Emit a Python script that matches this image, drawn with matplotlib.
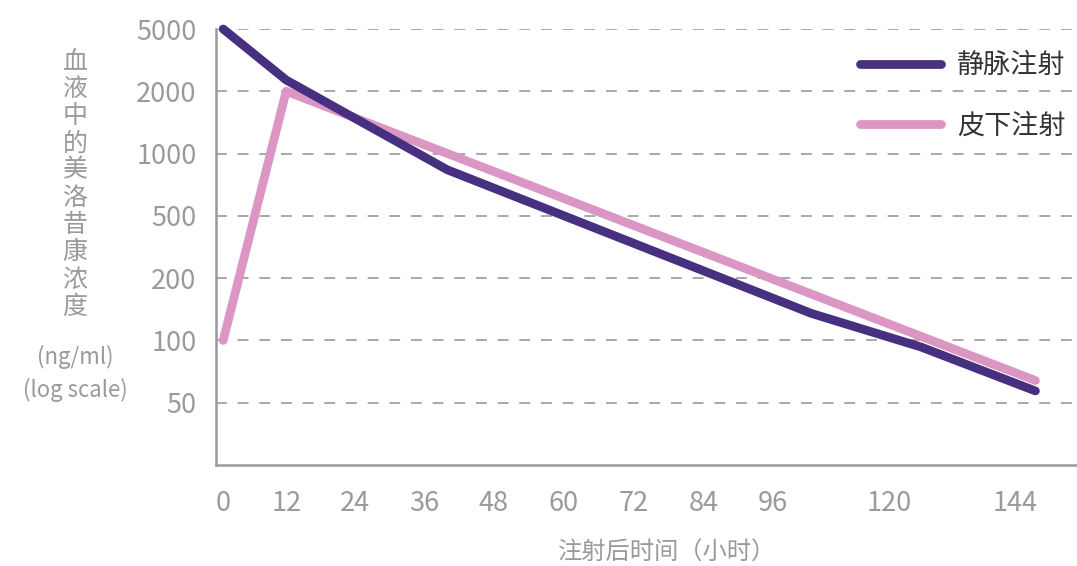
import numpy as np
import matplotlib
matplotlib.use('Agg')
import matplotlib.pyplot as plt

plt.rcParams['font.family'] = ['Noto Sans CJK SC', 'DejaVu Sans']

# data (hours, ng/ml)
iv_hours = [0, 12, 40, 104, 126, 148]
iv_conc = [5000, 2360, 835, 135, 93, 57]
sc_hours = [0, 12, 148]
sc_conc = [100, 2000, 64]

x_ticks = [0, 12, 24, 36, 48, 60, 72, 84, 96, 120, 144]
y_ticks = [50, 100, 200, 500, 1000, 2000, 5000]
y_labels = ['50', '100', '200', '500', '1000', '2000', '5000']

ylabel_chars = '血液中的美洛昔康浓度'
legend_names = ['静脉注射', '皮下注射']
xlabel = '注射后时间（小时）'

c_iv = '#46307f'
c_sc = '#db96c4'
grey = '#9a9a9a'

# the original axis spacing is uneven, so use piecewise scales
x_hours = [-20, 0, 12, 24, 36, 48, 60, 72, 84, 96, 120, 144, 170]
x_px = [113, 223, 286, 355, 424, 493, 563, 633, 703, 772, 889, 1014, 1149]
y_vals = np.log10([25, 50, 100, 200, 500, 1000, 2000, 5000, 10000])
y_idx = [-1, 0, 1, 2, 3, 4, 5, 6, 7]


def xf(x):
    return np.interp(x, x_hours, x_px)


def xi(p):
    return np.interp(p, x_px, x_hours)


def yf(v):
    return np.interp(np.log10(np.clip(v, 1e-9, None)), y_vals, y_idx)


def yi(i):
    return 10 ** np.interp(i, y_idx, y_vals)


fig = plt.figure(figsize=(10.77, 5.66), dpi=100)
ax = fig.add_axes([216 / 1077, 101 / 566, 861 / 1077, 436 / 566])
ax.set_xscale('function', functions=(xf, xi))
ax.set_yscale('function', functions=(yf, yi))

ax.plot(iv_hours, iv_conc, color=c_iv, lw=6.3, solid_capstyle='round',
        solid_joinstyle='round', label=legend_names[0], clip_on=False, zorder=4)
ax.plot(sc_hours, sc_conc, color=c_sc, lw=6.3, solid_capstyle='round',
        solid_joinstyle='round', label=legend_names[1], clip_on=False, zorder=3)

ax.set_xlim(-1.3, 156)
ax.set_ylim(25, 5000)

ax.set_xticks(x_ticks)
ax.set_xticklabels([str(t) for t in x_ticks])
ax.set_yticks(y_ticks)
ax.set_yticklabels(y_labels)
ax.minorticks_off()
ax.tick_params(length=0, labelsize=19.5, colors=grey)
ax.tick_params(axis='x', pad=18)
ax.tick_params(axis='y', pad=14)

for y in y_ticks:
    ax.axhline(y, color=grey, lw=1.2, dashes=(6.5, 6.5), zorder=1)

for s in ['top', 'right']:
    ax.spines[s].set_visible(False)
for s in ['left', 'bottom']:
    ax.spines[s].set_color(grey)
    ax.spines[s].set_linewidth(1.8)

leg = ax.legend(loc='upper right', bbox_to_anchor=(1.009, 0.99), frameon=False,
                fontsize=19.5, handlelength=3.0, handletextpad=0.6,
                labelspacing=1.23, borderaxespad=0.3)
for t in leg.get_texts():
    t.set_color('#333333')

# vertical y label, one character per line
for k, ch in enumerate(ylabel_chars):
    fig.text(75 / 1077, 1 - (62 + k * 27.2) / 566, ch, ha='center', va='center',
             fontsize=18, color=grey)
fig.text(75 / 1077, 1 - 357 / 566, '(ng/ml)', ha='center', va='center',
         fontsize=16, color=grey)
fig.text(75 / 1077, 1 - 390 / 566, '(log scale)', ha='center', va='center',
         fontsize=16, color=grey)

fig.text(667 / 1077, 1 - 553 / 566, xlabel, ha='center', va='center',
         fontsize=17.5, color=grey)

fig.savefig('out.png', dpi=100)
